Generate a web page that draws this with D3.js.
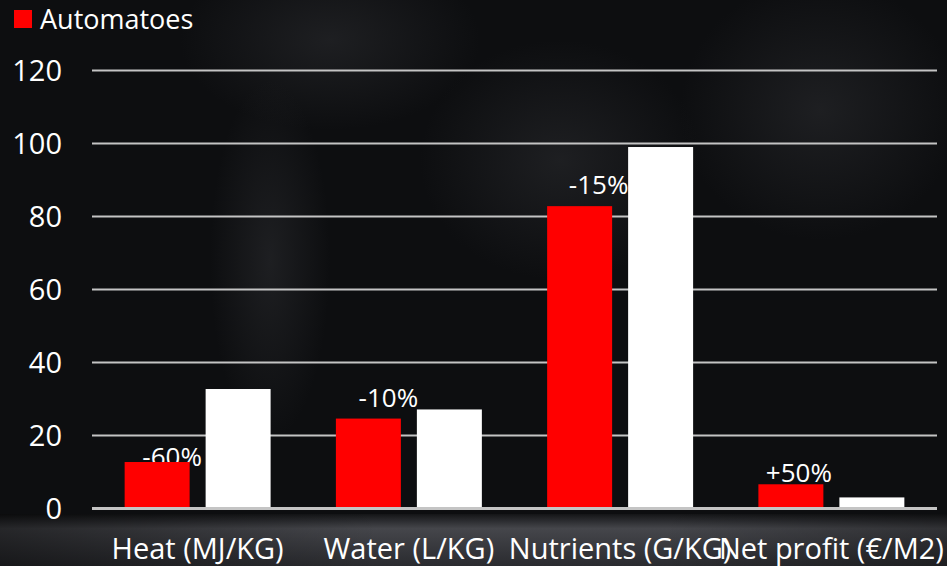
<!DOCTYPE html>
<html>
<head>
<meta charset="utf-8">
<script src="https://cdn.jsdelivr.net/npm/d3@7"></script>
<style>
  html, body { margin: 0; padding: 0; background: #0d0e10; }
  svg { display: block; }
  text { font-family: "Open Sans", Lato, sans-serif; fill: #ffffff; }
</style>
</head>
<body>
<svg id="chart" width="947" height="566"></svg>
<script>
// Resource use per kg of tomatoes: Automatoes (red) vs. conventional (white)
const categories = ["Heat (MJ/KG)", "Water (L/KG)", "Nutrients (G/KG)", "Net profit (€/M2)"];
const automatoes = [12.6, 24.5, 82.7, 6.5];
const conventional = [32.6, 27, 98.9, 2.9];
const changeLabels = ["-60%", "-10%", "-15%", "+50%"];
const yTicks = [0, 20, 40, 60, 80, 100, 120];
const legendLabel = "Automatoes";

// hand-placed offsets for the change labels, relative to the red bar [dx, dy]
const labelNudge = [[15, 4], [20, -12], [19, -12], [8, -2]];

const W = 947, H = 566;
const plotLeft = 92, plotRight = 937;
const svg = d3.select("#chart");

// ---- background ----
const defs = svg.append("defs");
const floor = defs.append("linearGradient").attr("id", "floor").attr("x1", 0).attr("y1", 0).attr("x2", 0).attr("y2", 1);
floor.append("stop").attr("offset", "0%").attr("stop-color", "#141517");
floor.append("stop").attr("offset", "28%").attr("stop-color", "#45464b");
floor.append("stop").attr("offset", "100%").attr("stop-color", "#2a2b2f");
const sideFade = defs.append("linearGradient").attr("id", "sideFade").attr("x1", 0).attr("y1", 0).attr("x2", 1).attr("y2", 0);
sideFade.append("stop").attr("offset", "0%").attr("stop-color", "#000").attr("stop-opacity", 0.45);
sideFade.append("stop").attr("offset", "40%").attr("stop-color", "#000").attr("stop-opacity", 0);
sideFade.append("stop").attr("offset", "70%").attr("stop-color", "#000").attr("stop-opacity", 0);
sideFade.append("stop").attr("offset", "100%").attr("stop-color", "#000").attr("stop-opacity", 0.3);
const glow = defs.append("radialGradient").attr("id", "glow");
glow.append("stop").attr("offset", "0%").attr("stop-color", "#222326").attr("stop-opacity", 0.8);
glow.append("stop").attr("offset", "100%").attr("stop-color", "#222326").attr("stop-opacity", 0);

svg.append("rect").attr("width", W).attr("height", H).attr("fill", "#0d0e10");
// faint tomato shapes in the dark backdrop
const blobs = svg.append("g").attr("fill", "url(#glow)");
[[330, 40, 150, 90], [560, 160, 140, 120], [820, 110, 140, 130], [270, 260, 60, 180]].forEach(([cx, cy, rx, ry]) =>
  blobs.append("ellipse").attr("cx", cx).attr("cy", cy).attr("rx", rx).attr("ry", ry));

svg.append("rect").attr("x", 0).attr("y", 514).attr("width", W).attr("height", H - 514).attr("fill", "url(#floor)");
svg.append("rect").attr("x", 0).attr("y", 514).attr("width", W).attr("height", H - 514).attr("fill", "url(#sideFade)");

// ---- scales ----
const y = d3.scaleLinear().domain([0, 120]).range([508, 70]);
const x0 = d3.scaleBand().domain(categories).range([plotLeft, plotRight]);
const x1 = d3.scaleBand().domain(["auto", "conv"]).range([0, x0.bandwidth()]).paddingInner(0.1975).paddingOuter(0.403);

// ---- gridlines ----
const yAxis = d3.axisLeft(y).tickValues(yTicks).tickSize(-(plotRight - plotLeft)).tickFormat(d3.format("d"));
const gy = svg.append("g").attr("transform", `translate(${plotLeft},0)`).call(yAxis);
gy.select(".domain").remove();
gy.selectAll(".tick line").attr("stroke", "#c4c4c4").attr("stroke-width", d => d === 0 ? 3 : 2);
gy.selectAll(".tick text").attr("x", -30).attr("dy", "0.36em").attr("text-anchor", "end")
  .style("font-size", "29px").attr("fill", "#fff");

// ---- change labels (drawn beneath the bars) ----
const rows = categories.map((c, i) => ({ cat: c, a: automatoes[i], b: conventional[i], label: changeLabels[i], nudge: labelNudge[i] }));
svg.append("g").selectAll("text").data(rows).join("text")
  .attr("x", d => x0(d.cat) + x1("auto") + x1.bandwidth() / 2 + d.nudge[0])
  .attr("y", d => y(d.a) + d.nudge[1])
  .attr("text-anchor", "middle")
  .style("font-size", "26px")
  .text(d => d.label);

// ---- bars ----
const groups = svg.append("g").selectAll("g").data(rows).join("g")
  .attr("transform", d => `translate(${x0(d.cat)},0)`);
groups.append("rect")
  .attr("x", x1("auto")).attr("width", x1.bandwidth())
  .attr("y", d => y(d.a)).attr("height", d => y(0) - 1 - y(d.a))
  .attr("fill", "#ff0000");
groups.append("rect")
  .attr("x", x1("conv")).attr("width", x1.bandwidth())
  .attr("y", d => y(d.b)).attr("height", d => y(0) - 1 - y(d.b))
  .attr("fill", "#ffffff");

// ---- category labels ----
svg.append("g").selectAll("text").data(categories).join("text")
  .attr("x", d => x0(d) + x0.bandwidth() / 2)
  .attr("y", 559)
  .attr("text-anchor", "middle")
  .style("font-size", "29px")
  .text(d => d);

// ---- legend ----
svg.append("rect").attr("x", 14).attr("y", 10).attr("width", 18).attr("height", 18).attr("fill", "#ff0000");
svg.append("text").attr("x", 40).attr("y", 29).style("font-size", "27px").text(legendLabel);
</script>
</body>
</html>
